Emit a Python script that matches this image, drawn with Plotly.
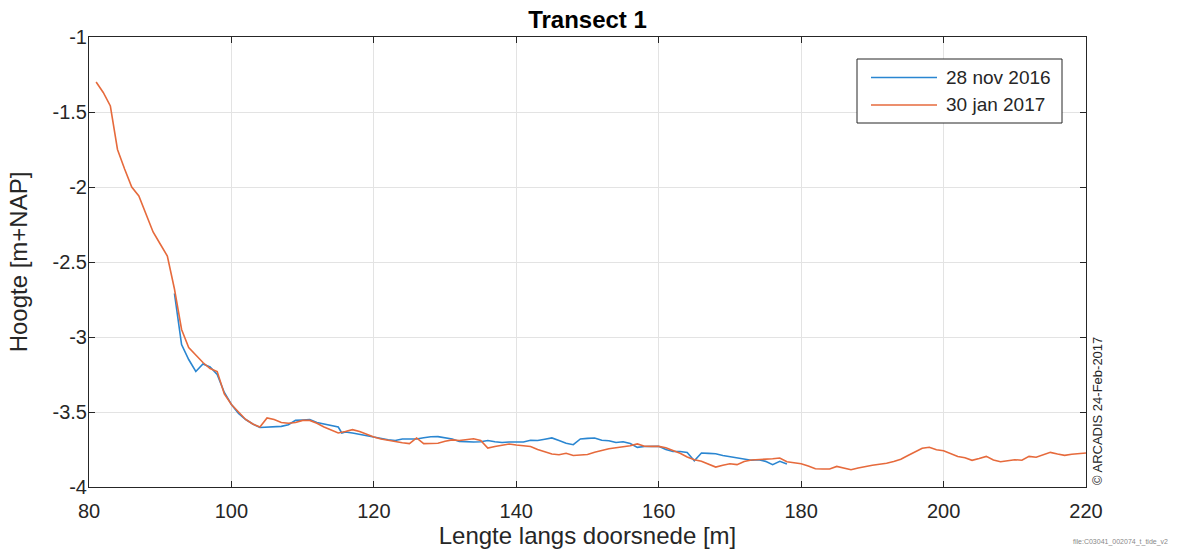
import plotly.graph_objects as go

# Data
x_nov = [92, 93, 94, 95, 96, 97, 98, 99, 100, 101, 102, 103, 104, 105, 106, 107, 108, 109, 110, 111,
         112, 113, 114, 115, 115.5, 116, 117, 118, 119, 120, 121, 122, 123, 124, 125, 126, 127, 128, 129, 130,
         131, 132, 133, 134, 135, 136, 137, 138, 139, 140, 141, 142, 143, 144, 145, 146, 147, 148, 149, 150,
         151, 152, 153, 154, 155, 156, 157, 158, 159, 160, 161, 162, 163, 164, 165, 166, 167, 168, 169, 170,
         171, 172, 173, 174, 175, 176, 177, 178]
y_nov = [-2.71, -3.05, -3.15, -3.23, -3.18, -3.20, -3.25, -3.37, -3.45, -3.51, -3.55, -3.58, -3.603, -3.60, -3.598, -3.596, -3.585, -3.556, -3.553, -3.551,
         -3.57, -3.58, -3.595, -3.60, -3.64, -3.633, -3.64, -3.65, -3.66, -3.667, -3.675, -3.685, -3.69, -3.68, -3.68, -3.68, -3.672, -3.665, -3.664, -3.672,
         -3.68, -3.696, -3.70, -3.70, -3.698, -3.69, -3.698, -3.703, -3.70, -3.70, -3.70, -3.688, -3.69, -3.682, -3.673, -3.69, -3.708, -3.718, -3.68, -3.676,
         -3.673, -3.688, -3.692, -3.703, -3.698, -3.71, -3.736, -3.73, -3.729, -3.729, -3.75, -3.763, -3.763, -3.77, -3.825, -3.773, -3.776, -3.778, -3.79, -3.798,
         -3.808, -3.811, -3.822, -3.818, -3.829, -3.851, -3.829, -3.846]

x_jan = list(range(81, 221))
y_jan = [-1.30, -1.37, -1.46, -1.75, -1.88, -2.00, -2.06, -2.18, -2.30, -2.38,
         -2.46, -2.68, -2.95, -3.07, -3.12, -3.17, -3.21, -3.23, -3.38, -3.45,
         -3.50, -3.55, -3.58, -3.60, -3.54, -3.55, -3.57, -3.575, -3.57, -3.556,
         -3.556, -3.575, -3.60, -3.62, -3.64, -3.63, -3.618, -3.63, -3.65, -3.667,
         -3.68, -3.69, -3.70, -3.705, -3.711, -3.673, -3.711, -3.71, -3.708, -3.695,
         -3.686, -3.69, -3.684, -3.678, -3.69, -3.741, -3.73, -3.72, -3.713, -3.72,
         -3.726, -3.73, -3.75, -3.766, -3.78, -3.785, -3.775, -3.79, -3.788, -3.783,
         -3.768, -3.755, -3.745, -3.738, -3.732, -3.725, -3.713, -3.728, -3.729, -3.729,
         -3.738, -3.755, -3.775, -3.80, -3.818, -3.828, -3.85, -3.867, -3.855, -3.845,
         -3.851, -3.83, -3.82, -3.818, -3.818, -3.812, -3.807, -3.832, -3.838, -3.845,
         -3.86, -3.878, -3.88, -3.88, -3.863, -3.875, -3.885, -3.873, -3.862, -3.855,
         -3.848, -3.842, -3.83, -3.815, -3.79, -3.768, -3.742, -3.735, -3.752, -3.758,
         -3.778, -3.797, -3.805, -3.822, -3.81, -3.796, -3.82, -3.832, -3.825, -3.818,
         -3.822, -3.796, -3.802, -3.785, -3.769, -3.78, -3.789, -3.782, -3.777, -3.773]

series_names = ["28 nov 2016", "30 jan 2017"]
series_colors = ["#2a86d1", "#e66a3c"]

x_ticks = [80, 100, 120, 140, 160, 180, 200, 220]
y_ticks = [-1, -1.5, -2, -2.5, -3, -3.5, -4]
y_ticktext = ["-1", "-1.5", "-2", "-2.5", "-3", "-3.5", "-4"]

FONT = "Liberation Sans, Arial, sans-serif"
AX = "#262626"

fig = go.Figure()
fig.add_trace(go.Scatter(x=x_nov, y=y_nov, mode="lines", name=series_names[0],
                         line=dict(color=series_colors[0], width=1.6)))
fig.add_trace(go.Scatter(x=x_jan, y=y_jan, mode="lines", name=series_names[1],
                         line=dict(color=series_colors[1], width=1.6)))

axis_common = dict(showline=True, linecolor=AX, linewidth=1, mirror="ticks",
                   ticks="inside", ticklen=6, tickcolor=AX, tickwidth=1,
                   showgrid=True, gridcolor="#e3e3e3", gridwidth=1, zeroline=False,
                   tickfont=dict(family=FONT, size=20, color=AX))

fig.update_layout(
    width=1198, height=559,
    margin=dict(l=89, r=112, t=37, b=72),
    plot_bgcolor="white", paper_bgcolor="white",
    showlegend=False,
    title=dict(text="<b>Transect 1</b>", x=(89 + 1086) / 2 / 1198, xanchor="center",
               y=1 - 20 / 559, yanchor="middle",
               font=dict(family=FONT, size=24, color="black")),
    xaxis=dict(range=[80, 220], tickvals=x_ticks, ticklabelstandoff=6,
               title=dict(text="Lengte langs doorsnede [m]", standoff=6,
                          font=dict(family=FONT, size=24, color=AX)),
               **axis_common),
    yaxis=dict(range=[-4, -1], tickvals=y_ticks, ticktext=y_ticktext, ticklabelstandoff=-3,
               title=dict(text="Hoogte [m+NAP]", standoff=18,
                          font=dict(family=FONT, size=24, color=AX)),
               **axis_common),
)

# Legend box drawn in plot-area (paper) coordinates
PW, PH, PL, PT = 997.0, 450.0, 89.0, 37.0
def px(xp):
    return (xp - PL) / PW
def py(yp):
    return (PT + PH - yp) / PH

fig.add_shape(type="rect", xref="paper", yref="paper",
              x0=px(857), x1=px(1062), y0=py(123), y1=py(59),
              line=dict(color=AX, width=1), fillcolor="white", layer="above")
for i, (nm, col) in enumerate(zip(series_names, series_colors)):
    yy = py(77.5 + 27.5 * i)
    fig.add_shape(type="line", xref="paper", yref="paper",
                  x0=px(871), x1=px(937), y0=yy, y1=yy,
                  line=dict(color=col, width=1.6), layer="above")
    fig.add_annotation(text=nm, xref="paper", yref="paper", x=px(944), y=yy,
                       xanchor="left", yanchor="middle", showarrow=False,
                       font=dict(family=FONT, size=19, color=AX))

fig.add_annotation(text="© ARCADIS 24-Feb-2017", xref="paper", yref="paper",
                   x=1.0, xshift=11, y=0, yanchor="bottom", xanchor="center",
                   textangle=-90, showarrow=False,
                   font=dict(family=FONT, size=13, color=AX))
fig.add_annotation(text="file:C03041_002074_t_tide_v2", xref="paper", yref="paper",
                   x=1.0, xshift=-15, y=-(542 - 487) / 450, yanchor="middle", xanchor="left",
                   showarrow=False,
                   font=dict(family=FONT, size=7, color="#888888"))

fig.write_html("out.html")
